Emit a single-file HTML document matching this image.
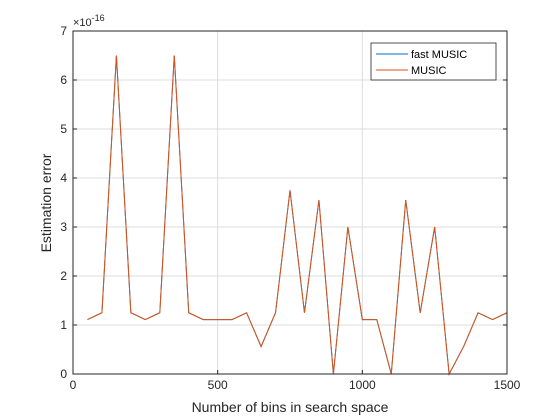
<!DOCTYPE html>
<html><head><meta charset="utf-8"><style>
body{margin:0;background:#fff;}
svg{display:block;font-family:"Liberation Sans",sans-serif;}
</style></head><body>
<svg id="chart" width="560" height="420">
<rect x="0" y="0" width="560" height="420" fill="#fff"/>
<g id="grid"></g>
<g id="ticks"></g>
<g id="series"></g>
<rect x="73" y="31" width="434" height="343" fill="none" stroke="#262626" stroke-width="1"/>
<text x="73" y="26" font-size="11" fill="#262626">×10<tspan dy="-5" font-size="9">-16</tspan></text>
<text x="290" y="412" font-size="14" fill="#262626" text-anchor="middle">Number of bins in search space</text>
<text transform="translate(51,203) rotate(-90)" font-size="14" fill="#262626" text-anchor="middle">Estimation error</text>
<g>
<rect x="371" y="43" width="125" height="37" fill="#fff" stroke="#262626" stroke-width="0.8"/>
<line x1="376" y1="54" x2="408" y2="54" stroke="#0072bd" stroke-width="1"/>
<text x="411" y="58" font-size="11" fill="#000">fast MUSIC</text>
<line x1="376" y1="70" x2="408" y2="70" stroke="#d95319" stroke-width="1"/>
<text x="411" y="74" font-size="11" fill="#000">MUSIC</text>
</g>
</svg>
<script>
const bins = [50,100,150,200,250,300,350,400,450,500,550,600,650,700,750,800,850,900,950,1000,1050,1100,1150,1200,1250,1300,1350,1400,1450,1500];
const fastMusic = [1.11,1.25,6.5,1.25,1.11,1.25,6.5,1.25,1.11,1.11,1.11,1.25,0.56,1.25,3.75,1.25,3.55,0,3.0,1.11,1.11,0,3.55,1.25,3.0,0,0.56,1.25,1.11,1.25];
const music = [1.11,1.25,6.5,1.25,1.11,1.25,6.5,1.25,1.11,1.11,1.11,1.25,0.56,1.25,3.75,1.25,3.55,0,3.0,1.11,1.11,0,3.55,1.25,3.0,0,0.56,1.25,1.11,1.25];
const xTicks = [0,500,1000,1500];
const yTicks = [0,1,2,3,4,5,6,7];
const L=73,R=507,T=31,B=374;
const xs=v=>L+(v-0)/(1500-0)*(R-L);
const ys=v=>B-(v-0)/(7-0)*(B-T);
const NS="http://www.w3.org/2000/svg";
function mk(tag,attrs,parent){const e=document.createElementNS(NS,tag);for(const k in attrs)e.setAttribute(k,attrs[k]);parent.appendChild(e);return e;}
const grid=document.getElementById('grid'),ticks=document.getElementById('ticks'),series=document.getElementById('series');
xTicks.forEach(t=>{
  const x=xs(t);
  const g=mk('line',{x1:x,y1:T,x2:x,y2:B,stroke:'#dcdcdc','stroke-width':1},grid);
  
  
  const tk=mk('line',{x1:x,y1:B,x2:x,y2:B-4,stroke:'#262626'},ticks);
  
  
  const tx=mk('text',{x:x,y:B+15,'font-size':12,fill:'#262626','text-anchor':'middle'},ticks);
  tx.textContent=t;
  
  
});
yTicks.forEach(t=>{
  const y=ys(t);
  const g=mk('line',{x1:L,y1:y,x2:R,y2:y,stroke:'#dcdcdc','stroke-width':1},grid);
  
  
  const tk=mk('line',{x1:L,y1:y,x2:L+4,y2:y,stroke:'#262626'},ticks);
  
  
  const tk2=mk('line',{x1:R,y1:y,x2:R-4,y2:y,stroke:'#262626'},ticks);
  
  
  const tx=mk('text',{x:L-6,y:y+4,'font-size':12,fill:'#262626','text-anchor':'end'},ticks);
  tx.textContent=t;
  
  
});
function line(vals,color,name){
  const p=mk('polyline',{points:bins.map((b,i)=>xs(b)+','+ys(vals[i])).join(' '),fill:'none',stroke:color,'stroke-width':1},series);
  
  
}
line(fastMusic,'#0072bd','fast-music-line');
line(music,'#d95319','music-line');
</script>
</body></html>
